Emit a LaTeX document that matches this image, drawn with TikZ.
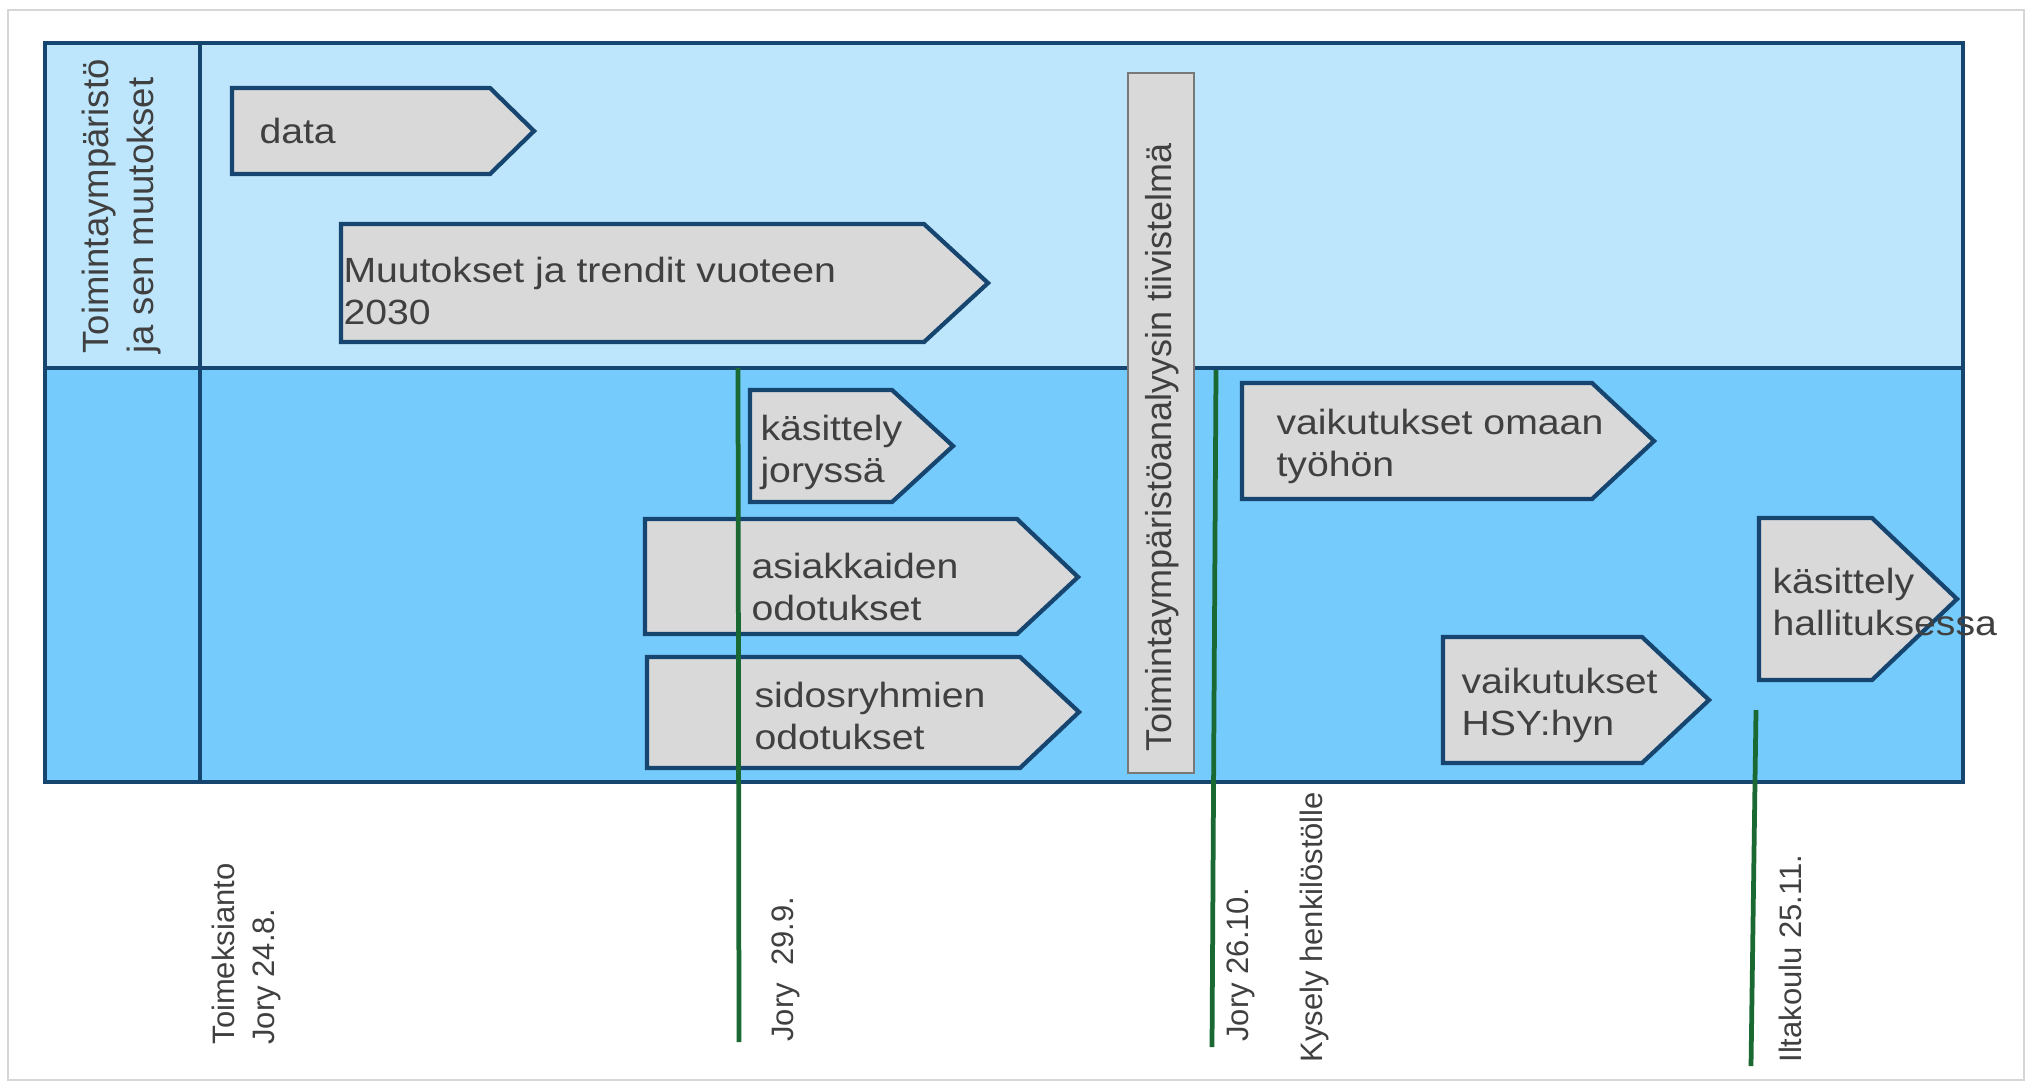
\documentclass[tikz,border=0pt]{standalone}
\usepackage{fontspec}
\setmainfont{Liberation Sans}
\newfontfamily\tagfont[FakeStretch=1.12]{Liberation Sans}
\definecolor{laneup}{RGB}{189, 230, 252}
\definecolor{lanedown}{RGB}{117, 203, 252}
\definecolor{laneline}{RGB}{22, 70, 112}
\definecolor{tagfill}{RGB}{217, 217, 217}
\definecolor{inkgray}{RGB}{64, 64, 64}
\definecolor{bandline}{RGB}{120, 120, 120}
\definecolor{milegreen}{RGB}{26, 104, 50}
\definecolor{pageline}{RGB}{214, 214, 214}
\usetikzlibrary{positioning, calc}

\begin{document}
\begin{tikzpicture}[x=0.4pt, y=-0.4pt,
  lane/.style={draw=laneline, line width=1.3pt},
  tag/.style={draw=laneline, fill=tagfill, line width=1.7pt, line join=miter},
  tagtext/.style={font={\tagfont\fontsize{14}{16.8}\selectfont}, text=inkgray, align=left, inner sep=0pt, anchor=west},
  sidetext/.style={font={\fontsize{14.4}{16}\selectfont}, text=inkgray, align=left, inner sep=0pt, anchor=west, rotate=90},
  datetext/.style={font={\fontsize{12.4}{16}\selectfont}, text=inkgray, align=left, inner sep=0pt, anchor=west, rotate=90},
  mileline/.style={draw=milegreen, line width=1.9pt}]

  \useasboundingbox (0,0) rectangle (2031,1082);
  \draw[pageline, line width=0.8pt] (8,10) rectangle (2024,1080);

  % swimlanes
  \draw[lane, fill=laneup] (45,43) rectangle (1963,368);
  \draw[lane, fill=lanedown] (45,368) rectangle (1963,782);
  \draw[lane] (200,43) -- (200,782);
  \node[sidetext, font={\fontsize{14.6}{18}\selectfont}] (lanehead) at (122,354) {Toimintaympäristö\\ja sen muutokset};

  % steps
  \draw[tag] (232,88) -- (490,88) -- (534,131) -- (490,174) -- (232,174) -- cycle;
  \node[tagtext] (data) at (259,131) {data};
  \draw[tag] (341,224) -- (924,224) -- (988,283) -- (924,342) -- (341,342) -- cycle;
  \node[tagtext] (trends) at (343,291) {Muutokset ja trendit vuoteen\\2030};
  \draw[tag] (750,390) -- (892,390) -- (953,446) -- (892,502) -- (750,502) -- cycle;
  \node[tagtext] (joryreview) at (760,452) {käsittely\\joryssä};
  \draw[tag] (645,519) -- (1017,519) -- (1078,577) -- (1017,634) -- (645,634) -- cycle;
  \node[tagtext] (customers) at (751,587) {asiakkaiden\\odotukset};
  \draw[tag] (647,657) -- (1020,657) -- (1079,712) -- (1020,768) -- (647,768) -- cycle;
  \node[tagtext] (stakeholders) at (754,716) {sidosryhmien\\odotukset};
  \draw[tag] (1242,383) -- (1592,383) -- (1654,441) -- (1592,499) -- (1242,499) -- cycle;
  \node[tagtext] (ownwork) at (1276,446) {vaikutukset omaan\\työhön};
  \draw[tag] (1443,637) -- (1642,637) -- (1709,700) -- (1642,763) -- (1443,763) -- cycle;
  \node[tagtext] (hsyimpact) at (1461,705) {vaikutukset\\HSY:hyn};
  \draw[tag] (1759,518) -- (1872,518) -- (1957,599) -- (1872,680) -- (1759,680) -- cycle;
  \node[tagtext] (boardreview) at (1772,602) {käsittely\\hallituksessa};

  % summary band
  \draw[draw=bandline, fill=tagfill, line width=0.8pt] (1128,73) rectangle (1194,773);
  \node[sidetext] (summary) at (1162,752) {Toimintaympäristöanalyysin tiivistelmä};

  % milestones
  \coordinate (m1top) at (738,368);
  \coordinate (m1end) at (739,1042);
  \coordinate (m2top) at (1216,370);
  \coordinate (m2end) at (1212,1047);
  \coordinate (m3top) at (1756,710);
  \coordinate (m3end) at (1751,1066);
  \draw[mileline] (m1top) -- (m1end);
  \draw[mileline] (m2top) -- (m2end);
  \draw[mileline] (m3top) -- (m3end);

  \node[datetext] (kickoff) at (246,1045) {Toimeksianto\\Jory 24.8.};
  \node[datetext] (jory1) at (786,1042) {Jory~~29.9.};
  \node[datetext] (jory2) at (1241,1042) {Jory 26.10.};
  \node[datetext] (survey) at (1314,1063) {Kysely henkilöstölle};
  \node[datetext] (eveningsession) at (1790,1063) {Iltakoulu 25.11.};
\end{tikzpicture}
\end{document}
